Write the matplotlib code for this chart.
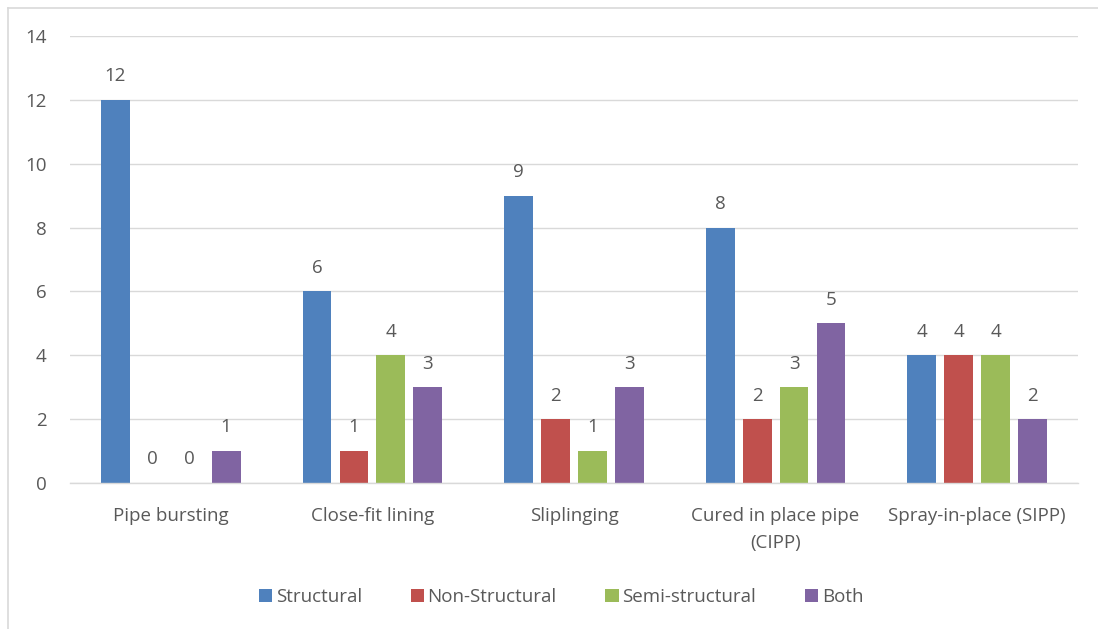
import matplotlib
matplotlib.use("Agg")
import matplotlib.pyplot as plt
from matplotlib.lines import Line2D
import numpy as np

plt.rcParams['font.family'] = ['Open Sans', 'DejaVu Sans']

# technique categories and counts per lining type
categories = ['Pipe bursting', 'Close-fit lining', 'Sliplinging',
              'Cured in place pipe\n(CIPP)', 'Spray-in-place (SIPP)']
series_names = ['Structural', 'Non-Structural', 'Semi-structural', 'Both']
structural = [12, 6, 9, 8, 4]
non_structural = [0, 1, 2, 2, 4]
semi_structural = [0, 4, 1, 3, 4]
both = [1, 3, 3, 5, 2]
colors = ['#4F81BD', '#C0504D', '#9BBB59', '#8064A2']
text_col = '#595959'
fs = 13.5

W, H = 1098, 629
fig = plt.figure(figsize=(W / 100, H / 100), dpi=100)
ax = fig.add_axes([70 / W, 1 - 483 / H, (1078 - 70) / W, (483 - 36) / H])

x = np.arange(len(categories))
pitch = 0.183
width = 0.143
for i, (vals, name) in enumerate(zip([structural, non_structural, semi_structural, both], series_names)):
    pos = x + (i - 1.5) * pitch
    ax.bar(pos, vals, width, color=colors[i], label=name, zorder=3)
    for xp, v in zip(pos, vals):
        ax.annotate(str(v), (xp, v), xytext=(0, 17), textcoords='offset points',
                    ha='center', va='center', fontsize=fs, color=text_col)

ax.set_xlim(-0.5, len(categories) - 0.5)
ax.set_ylim(0, 14)
ax.set_yticks(range(0, 15, 2))
ax.set_xticks(x)
ax.set_xticklabels(categories, fontsize=fs, color=text_col, linespacing=1.65)
ax.tick_params(axis='y', labelsize=fs, labelcolor=text_col, length=0, pad=17)
ax.tick_params(axis='x', length=0, pad=17)
ax.grid(axis='y', color='#D9D9D9', linewidth=1, zorder=0)
for s in ['top', 'right', 'left']:
    ax.spines[s].set_visible(False)
ax.spines['bottom'].set_color('#D9D9D9')
ax.spines['bottom'].set_linewidth(1)
ax.spines['bottom'].set_zorder(4)

fig.legend(loc='center', bbox_to_anchor=(561 / W, 1 - 597 / H), ncol=4, frameon=False,
           fontsize=fs, labelcolor=text_col, handlelength=0.7, handleheight=0.7,
           handletextpad=0.2, columnspacing=2.6)

# chart-area frame (left and top edges)
fig.add_artist(Line2D([7.5 / W, 7.5 / W], [0, 1 - 7.5 / H], color='#D9D9D9', lw=1.2))
fig.add_artist(Line2D([7.5 / W, 1], [1 - 7.5 / H, 1 - 7.5 / H], color='#D9D9D9', lw=1.2))

fig.savefig('out.png', dpi=100, facecolor='white')
